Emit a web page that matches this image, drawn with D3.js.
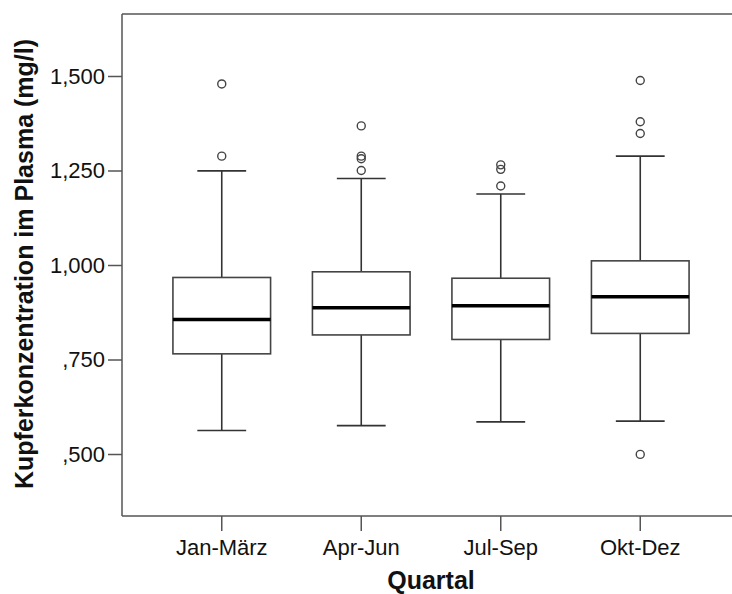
<!DOCTYPE html>
<html>
<head>
<meta charset="utf-8">
<script src="https://cdn.jsdelivr.net/npm/d3@7"></script>
<style>
  body { margin: 0; background: #fff; }
  svg { display: block; font-family: "Liberation Sans", Arial, sans-serif; }
  .axis path, .axis line { stroke: #555; stroke-width: 1.5; }
  .axis text { fill: #111; font-size: 22px; }
  .title { font-size: 25px; font-weight: bold; fill: #111; }
</style>
</head>
<body>
<svg id="chart"></svg>
<script>
var quarters = ['Jan-März', 'Apr-Jun', 'Jul-Sep', 'Okt-Dez'];
var lowerWhisker = [0.562, 0.575, 0.585, 0.587];
var boxLow = [0.765, 0.815, 0.803, 0.819];
var medians = [0.856, 0.887, 0.892, 0.916];
var boxHigh = [0.967, 0.982, 0.965, 1.011];
var upperWhisker = [1.249, 1.229, 1.188, 1.288];
var outliers = [
    [1.479, 1.288],
    [1.368, 1.288, 1.281, 1.250],
    [1.265, 1.253, 1.209],
    [1.488, 1.379, 1.348, 0.499]
];
var yTicks = [0.5, 0.75, 1.0, 1.25, 1.5];

(function () {
    var WIDTH = 732, HEIGHT = 594;
    var FRAME = {left: 122, top: 14, bottom: 516, right: 732};

    var svg = d3.select('#chart').attr('width', WIDTH).attr('height', HEIGHT);

    var x = d3.scaleBand().domain(quarters).range([152, 710])
        .paddingInner(0.3).paddingOuter(0.15);
    var y = d3.scaleLinear().domain([0.336, 1.664]).range([FRAME.bottom, FRAME.top]);

    // SPSS style decimals: comma, no leading zero
    function fmt(v) {
        var s = v.toFixed(3).replace('.', ',');
        return s.charAt(0) === '0' ? s.substring(1) : s;
    }

    // frame: top line, left axis, bottom axis run off to the right edge
    svg.append('line').attr('x1', FRAME.left).attr('x2', FRAME.right)
        .attr('y1', FRAME.top).attr('y2', FRAME.top)
        .style('stroke', '#555').style('stroke-width', 1.5);

    var yAxis = d3.axisLeft(y).tickValues(yTicks).tickFormat(fmt).tickSize(14).tickPadding(3);
    svg.append('g').attr('class', 'axis')
        .attr('transform', 'translate(' + FRAME.left + ',0)')
        .call(yAxis)
        .select('.domain').remove();
    svg.append('line').attr('x1', FRAME.left).attr('x2', FRAME.left)
        .attr('y1', FRAME.top).attr('y2', FRAME.bottom)
        .style('stroke', '#555').style('stroke-width', 1.5);

    var xAxis = d3.axisBottom(x).tickSize(15).tickPadding(8);
    svg.append('g').attr('class', 'axis')
        .attr('transform', 'translate(0,' + FRAME.bottom + ')')
        .call(xAxis)
        .select('.domain').remove();
    svg.append('line').attr('x1', FRAME.left).attr('x2', FRAME.right)
        .attr('y1', FRAME.bottom).attr('y2', FRAME.bottom)
        .style('stroke', '#555').style('stroke-width', 1.5);

    // boxes
    var bw = x.bandwidth();
    var capW = bw / 2;
    var g = svg.append('g');
    quarters.forEach(function (q, i) {
        var cx = x(q) + bw / 2;
        var grp = g.append('g');
        grp.append('line').attr('x1', cx).attr('x2', cx)
            .attr('y1', y(boxHigh[i])).attr('y2', y(upperWhisker[i]));
        grp.append('line').attr('x1', cx).attr('x2', cx)
            .attr('y1', y(boxLow[i])).attr('y2', y(lowerWhisker[i]));
        grp.append('line').attr('x1', cx - capW / 2).attr('x2', cx + capW / 2)
            .attr('y1', y(upperWhisker[i])).attr('y2', y(upperWhisker[i]));
        grp.append('line').attr('x1', cx - capW / 2).attr('x2', cx + capW / 2)
            .attr('y1', y(lowerWhisker[i])).attr('y2', y(lowerWhisker[i]));
        grp.selectAll('line').style('stroke', '#333').style('stroke-width', 1.6);

        grp.append('rect').attr('x', x(q)).attr('width', bw)
            .attr('y', y(boxHigh[i])).attr('height', y(boxLow[i]) - y(boxHigh[i]))
            .style('fill', '#fff').style('stroke', '#444').style('stroke-width', 1.6);
        grp.append('line').attr('x1', x(q)).attr('x2', x(q) + bw)
            .attr('y1', y(medians[i])).attr('y2', y(medians[i]))
            .style('stroke', '#000').style('stroke-width', 3.5);

        grp.selectAll('circle.out').data(outliers[i]).enter().append('circle')
            .attr('class', 'out')
            .attr('cx', cx).attr('cy', function (d) { return y(d); })
            .attr('r', 4)
            .style('fill', 'none').style('stroke', '#444').style('stroke-width', 1.4);
    });

    // titles
    svg.append('text').attr('class', 'title')
        .attr('x', (x(quarters[0]) + x(quarters[3]) + bw) / 2).attr('y', 589)
        .style('text-anchor', 'middle')
        .text('Quartal');
    svg.append('text').attr('class', 'title')
        .attr('transform', 'translate(33,' + 264 + ') rotate(-90)')
        .style('text-anchor', 'middle')
        .text('Kupferkonzentration im Plasma (mg/l)');
}());
</script>
</body>
</html>
